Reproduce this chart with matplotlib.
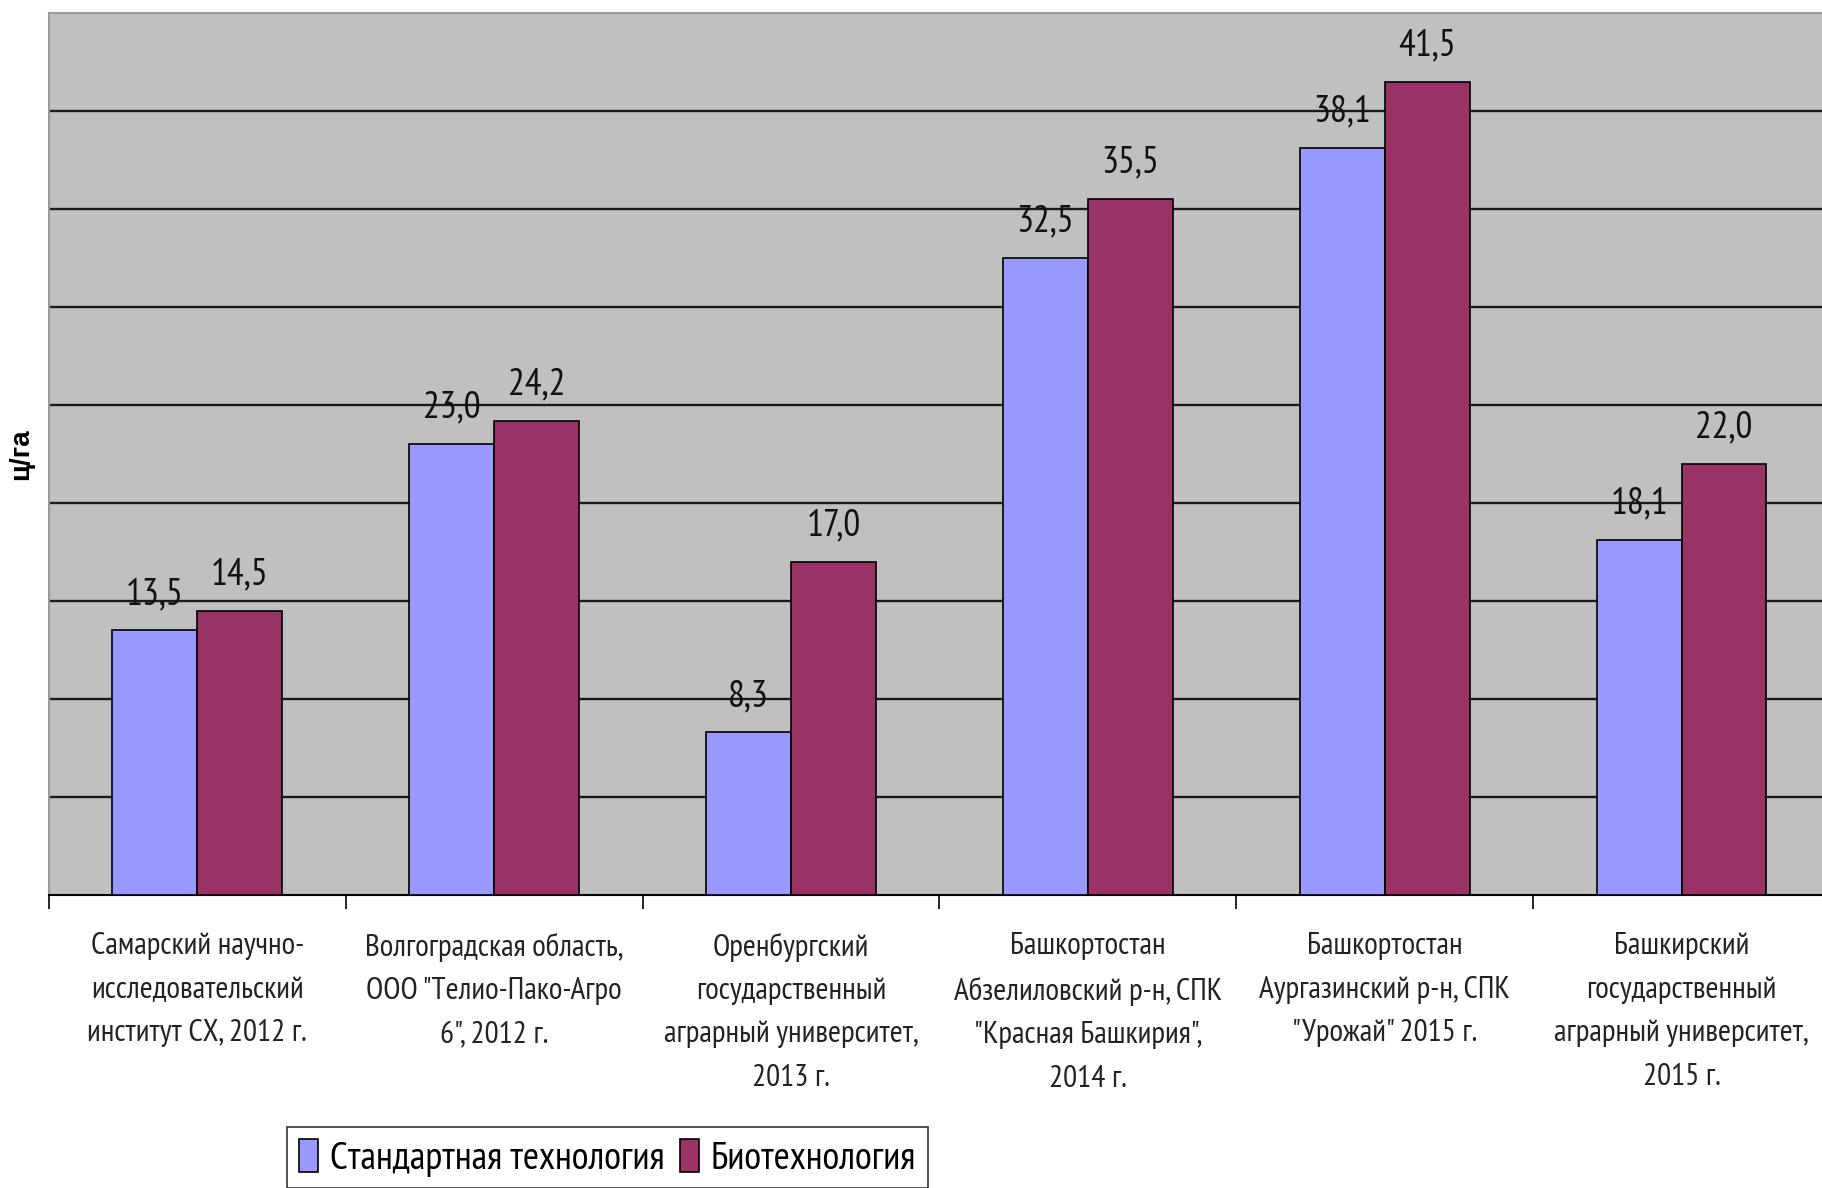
import matplotlib
matplotlib.use("Agg")
import matplotlib.pyplot as plt
import numpy as np
from matplotlib import font_manager

names = {f.name for f in font_manager.fontManager.ttflist}
preferred = ['Liberation Sans Narrow', 'Arial Narrow', 'PT Sans Narrow', 'Roboto Condensed',
             'Fira Sans Condensed', 'IBM Plex Sans Condensed', 'Sofia Sans Semi Condensed',
             'Liberation Sans']
NARROW = next(n for n in preferred if n in names)
FONT = [NARROW, 'DejaVu Sans']
plt.rcParams['font.family'] = FONT

categories = [
    "Самарский научно-\nисследовательский\nинститут СХ, 2012 г.",
    "Волгоградская область,\nООО \"Телио-Пако-Агро\n6\", 2012 г.",
    "Оренбургский\nгосударственный\nаграрный университет,\n2013 г.",
    "Башкортостан\nАбзелиловский р-н, СПК\n\"Красная Башкирия\",\n2014 г.",
    "Башкортостан\nАургазинский р-н, СПК\n\"Урожай\" 2015 г.",
    "Башкирский\nгосударственный\nаграрный университет,\n2015 г.",
]
standard = [13.5, 23.0, 8.3, 32.5, 38.1, 18.1]
biotech = [14.5, 24.2, 17.0, 35.5, 41.5, 22.0]
series_names = ["Стандартная технология", "Биотехнология"]
y_label = "ц/га"

W, H = 1822, 1188
fig = plt.figure(figsize=(W / 100, H / 100), dpi=100)
ax = fig.add_axes([48.8 / W, 1 - 895 / H, (1830 - 48.8) / W, (895 - 13) / H])
ax.set_facecolor('#C0C0C0')

x = np.arange(len(categories))
bw = 0.286
b1 = ax.bar(x - bw / 2, standard, bw, color='#9999FF', edgecolor='black', linewidth=1.2, label=series_names[0], zorder=3)
b2 = ax.bar(x + bw / 2, biotech, bw, color='#993366', edgecolor='black', linewidth=1.2, label=series_names[1], zorder=3)

def fmt(v):
    return f"{v:.1f}".replace('.', ',')

for bars, vals in ((b1, standard), (b2, biotech)):
    for r, v in zip(bars, vals):
        ax.annotate(fmt(v), (r.get_x() + r.get_width() / 2, v), xytext=(0, 19),
                    textcoords='offset points', ha='center', va='baseline',
                    fontsize=27, color='#111111')

ax.set_xlim(-0.5, len(categories) - 0.5)
ax.set_ylim(0, 45)
ax.set_yticks(np.arange(5, 45, 5))
ax.yaxis.grid(True, color='#1a1a1a', linewidth=1.7, zorder=1)
ax.tick_params(axis='y', length=0, labelleft=False)

ax.set_xticks(np.arange(-0.5, len(categories) + 0.5, 1))
ax.set_xticklabels([])
ax.tick_params(axis='x', which='major', length=10, width=1.2, color='black', direction='out')
ax.set_xticks(x, minor=True)
ax.set_xticklabels(categories, minor=True, fontsize=22.5, linespacing=1.7, color='#222222')
ax.tick_params(axis='x', which='minor', length=0, pad=27)

for s in ('top', 'left'):
    ax.spines[s].set_color('#9a9a9a')
    ax.spines[s].set_linewidth(1.5)
ax.spines['right'].set_visible(False)
ax.spines['bottom'].set_color('black')
ax.spines['bottom'].set_linewidth(1.5)
ax.set_axisbelow(True)

fig.text(21 / W, 1 - 454 / H, y_label, rotation=90, fontsize=20, fontweight='bold',
         ha='center', va='center', family=['Liberation Sans', 'DejaVu Sans'])

leg = fig.legend(handles=[b1, b2], labels=series_names, loc='upper left',
                 bbox_to_anchor=(287 / W, 1 - 1127 / H), ncol=2, frameon=True,
                 fancybox=False, edgecolor='black', fontsize=28, handlelength=0.5,
                 handleheight=0.95, handletextpad=0.3, columnspacing=0.4,
                 borderpad=0.3, borderaxespad=0)
leg.get_frame().set_linewidth(1.2)

fig.savefig('out.png', dpi=100, facecolor='white')
